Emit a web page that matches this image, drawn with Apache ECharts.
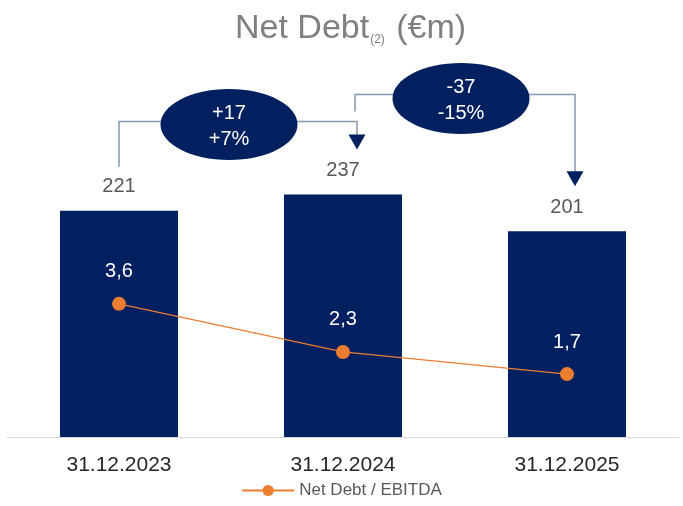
<!DOCTYPE html>
<html>
<head>
<meta charset="utf-8">
<script src="https://cdn.jsdelivr.net/npm/echarts@6/dist/echarts.min.js"></script>
<style>
  html, body { margin: 0; padding: 0; background: #fff; }
  #main { width: 683px; height: 506px; }
</style>
</head>
<body>
<div id="main"></div>
<script>
// Net Debt chart
var categories = ['31.12.2023', '31.12.2024', '31.12.2025'];
var netDebt = [221, 237, 201];
var leverage = [3.6, 2.3, 1.7];
var deltaAbs = ['+17', '-37'];
var deltaPct = ['+7%', '-15%'];

var navy = '#002060';
var orange = '#ED7D31';
var connColor = '#8497B0';
var font = 'Liberation Sans, Arial, sans-serif';

var myChart = echarts.init(document.getElementById('main'));

var option = {
  animation: false,
  title: {
    text: '{a|Net Debt}{b|(2)}{a| (€m)}',
    left: 230,
    top: 7,
    textStyle: {
      fontWeight: 'normal',
      rich: {
        a: { fontFamily: font, fontSize: 34, fontWeight: 'normal', color: '#808080' },
        b: { fontFamily: font, fontSize: 12, fontWeight: 'normal', color: '#808080', verticalAlign: 'bottom', padding: [16, 2, 0, 1] }
      }
    }
  },
  legend: {
    bottom: 2,
    left: 'center',
    itemWidth: 52,
    itemHeight: 14,
    itemGap: 6,
    textStyle: { fontFamily: font, fontSize: 17, color: '#595959' },
    data: ['Net Debt / EBITDA']
  },
  grid: { left: 7, right: 4, top: 130, bottom: 69 },
  xAxis: {
    type: 'category',
    data: categories,
    axisTick: { show: false },
    axisLine: { lineStyle: { color: '#D9D9D9', width: 1 } },
    axisLabel: { fontFamily: font, fontSize: 21, color: '#262626', margin: 18 }
  },
  yAxis: [
    { type: 'value', min: 0, max: 300, show: false, splitLine: { show: false } },
    { type: 'value', min: 0, max: 8.3, show: false, splitLine: { show: false } }
  ],
  series: [
    {
      name: 'Net Debt',
      type: 'bar',
      data: netDebt,
      barWidth: 118,
      itemStyle: { color: navy },
      label: {
        show: true,
        position: 'top',
        distance: 14,
        fontFamily: font,
        fontSize: 20,
        color: '#595959'
      }
    },
    {
      name: 'Net Debt / EBITDA',
      type: 'line',
      yAxisIndex: 1,
      data: leverage,
      symbol: 'circle',
      symbolSize: 14,
      lineStyle: { color: orange, width: 1.2 },
      itemStyle: { color: orange },
      label: {
        show: true,
        position: 'top',
        distance: 15,
        fontFamily: font,
        fontSize: 20,
        color: '#FFFFFF',
        formatter: function (p) { return String(p.value).replace('.', ','); }
      }
    }
  ]
};

myChart.setOption(option);

// annotation bubbles and connector arrows, placed from the bar positions
function buildAnnotations() {
  var pts = netDebt.map(function (v, i) {
    return myChart.convertToPixel({ xAxisIndex: 0, yAxisIndex: 0 }, [i, v]);
  });
  var els = [];
  // [start x, start y, horizontal y, end x, arrow tip y, bubble cx, bubble cy]
  var specs = [
    [pts[0][0], pts[0][1] - 44, pts[1][1] - 73, pts[1][0] + 14, pts[1][1] - 45, (pts[0][0] + pts[1][0]) / 2 - 2, pts[1][1] - 70],
    [pts[1][0] + 12, pts[1][1] - 83, pts[1][1] - 100, pts[2][0] + 8, pts[2][1] - 45, (pts[1][0] + pts[2][0]) / 2 + 6, pts[1][1] - 96]
  ];
  specs.forEach(function (s, i) {
    var sx = s[0], sy = s[1], hy = s[2], ex = s[3], tip = s[4], cx = s[5], cy = s[6];
    els.push({
      type: 'polyline',
      shape: { points: [[sx, sy], [sx, hy], [ex, hy], [ex, tip - 14]] },
      style: { stroke: connColor, lineWidth: 1.5, fill: null },
      z: 10
    });
    els.push({
      type: 'polygon',
      shape: { points: [[ex - 8.5, tip - 15], [ex + 8.5, tip - 15], [ex, tip]] },
      style: { fill: navy },
      z: 11
    });
    els.push({
      type: 'ellipse',
      shape: { cx: cx, cy: cy, rx: 68.5, ry: 35.5 },
      style: { fill: navy },
      z: 12
    });
    els.push({
      type: 'text',
      x: cx,
      y: cy + 2,
      style: {
        text: deltaAbs[i] + '\n' + deltaPct[i],
        fill: '#FFFFFF',
        font: '20px ' + font,
        lineHeight: 26,
        align: 'center',
        verticalAlign: 'middle'
      },
      z: 13
    });
  });
  myChart.setOption({ graphic: { elements: els } });
}

buildAnnotations();
</script>
</body>
</html>
